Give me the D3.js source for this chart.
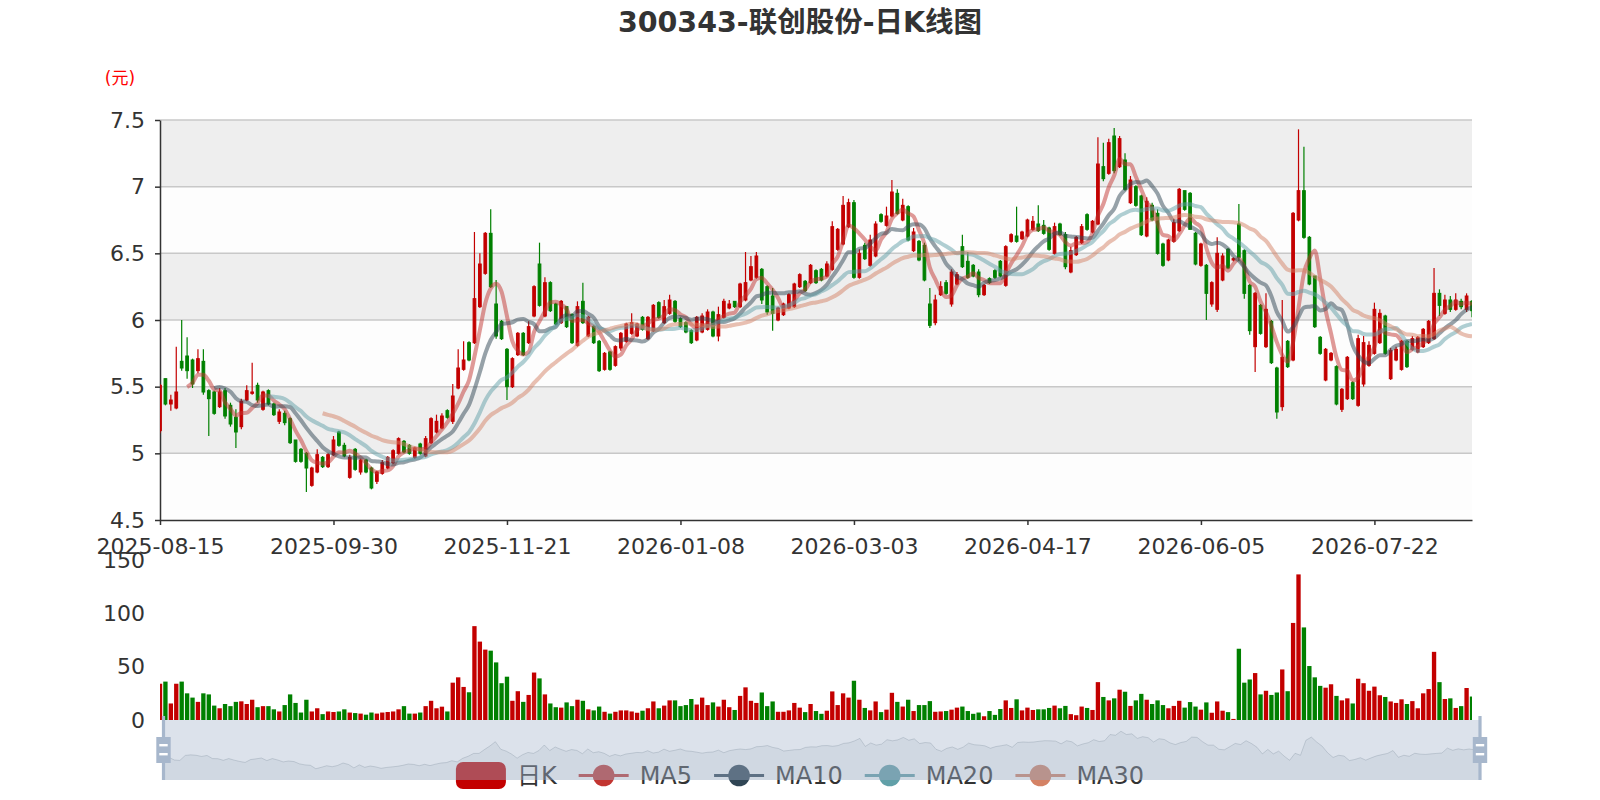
<!DOCTYPE html>
<html>
<head>
<meta charset="utf-8">
<title>300343-联创股份-日K线图</title>
<script src="https://cdn.jsdelivr.net/npm/d3@7/dist/d3.min.js"></script>
<style>
  body { margin: 0; background: #fff; }
  svg text { font-family: "DejaVu Sans", "Noto Sans CJK SC", sans-serif; }
</style>
</head>
<body>
<svg id="chart" width="1600" height="800"></svg>
<script>
// 交易日，按月份列出
const months = ['2025-08', '2025-09', '2025-10', '2025-11', '2025-12', '2026-01',
    '2026-02', '2026-03', '2026-04', '2026-05', '2026-06', '2026-07', '2026-08'];
const monthDays = [
    [15, 18, 19, 20, 21, 22, 25, 26, 27, 28, 29],
    [1, 2, 3, 4, 5, 8, 9, 10, 11, 12, 15, 16, 17, 18, 19, 22, 23, 24, 25, 26, 29, 30],
    [9, 10, 13, 14, 15, 16, 17, 20, 21, 22, 23, 24, 27, 28, 29, 30, 31],
    [3, 4, 5, 6, 7, 10, 11, 12, 13, 14, 17, 18, 19, 20, 21, 24, 25, 26, 27, 28],
    [1, 2, 3, 4, 5, 8, 9, 10, 11, 12, 15, 16, 17, 18, 19, 22, 23, 24, 25, 26, 29, 30, 31],
    [5, 6, 7, 8, 9, 12, 13, 14, 15, 16, 19, 20, 21, 22, 23, 26, 27, 28, 29, 30],
    [2, 3, 4, 5, 6, 9, 10, 11, 12, 13, 24, 25, 26, 27],
    [2, 3, 4, 5, 6, 9, 10, 11, 12, 13, 16, 17, 18, 19, 20, 23, 24, 25, 26, 27, 30, 31],
    [1, 2, 3, 7, 8, 9, 10, 13, 14, 15, 16, 17, 20, 21, 22, 23, 24, 27, 28, 29, 30],
    [6, 7, 8, 11, 12, 13, 14, 15, 18, 19, 20, 21, 22, 25, 26, 27, 28, 29],
    [1, 2, 3, 4, 5, 8, 9, 10, 11, 12, 15, 16, 17, 18, 22, 23, 24, 25, 26, 29, 30],
    [1, 2, 3, 6, 7, 8, 9, 10, 13, 14, 15, 16, 17, 20, 21, 22, 23, 24, 27, 28, 29, 30, 31],
    [3, 4, 5, 6, 7, 10, 11, 12, 13, 14, 17]
];

// 日K: [开盘, 收盘, 最低, 最高]
const kData = [
    [5.17, 5.51, 5.15, 5.52], [5.56, 5.37, 5.36, 5.56], [5.37, 5.40, 5.32, 5.44], [5.34, 5.46, 5.33, 5.80],
    [5.69, 5.64, 5.62, 6.00], [5.73, 5.62, 5.56, 5.87], [5.70, 5.52, 5.49, 5.71], [5.62, 5.71, 5.60, 5.78],
    [5.69, 5.46, 5.44, 5.78], [5.47, 5.41, 5.13, 5.48], [5.46, 5.30, 5.29, 5.47], [5.35, 5.46, 5.34, 5.49],
    [5.47, 5.28, 5.26, 5.49], [5.36, 5.22, 5.20, 5.38], [5.27, 5.16, 5.04, 5.33], [5.20, 5.39, 5.18, 5.41],
    [5.40, 5.47, 5.39, 5.51], [5.45, 5.46, 5.44, 5.68], [5.51, 5.40, 5.38, 5.53], [5.33, 5.46, 5.32, 5.47],
    [5.47, 5.37, 5.36, 5.48], [5.37, 5.29, 5.28, 5.38], [5.24, 5.31, 5.22, 5.33], [5.30, 5.23, 5.21, 5.32],
    [5.26, 5.08, 5.07, 5.27], [5.10, 4.94, 4.93, 5.10], [5.03, 4.94, 4.93, 5.04], [5.00, 4.89, 4.71, 5.01],
    [4.76, 4.89, 4.75, 4.90], [4.86, 4.99, 4.85, 5.03], [4.97, 4.90, 4.89, 4.98], [4.90, 4.99, 4.89, 5.00],
    [4.99, 5.10, 4.98, 5.13], [5.16, 5.06, 5.05, 5.17], [5.06, 4.98, 4.97, 5.08], [4.82, 4.97, 4.81, 4.99],
    [5.03, 4.88, 4.87, 5.04], [4.86, 4.95, 4.84, 4.96], [4.95, 4.86, 4.85, 4.96], [4.89, 4.74, 4.73, 4.90],
    [4.79, 4.86, 4.77, 4.87], [4.85, 4.93, 4.84, 4.95], [4.89, 4.97, 4.88, 4.98], [4.93, 5.02, 4.92, 5.03],
    [5.00, 5.11, 4.99, 5.12], [5.09, 5.01, 5.00, 5.10], [5.06, 5.00, 4.99, 5.07], [4.97, 5.04, 4.96, 5.05],
    [5.07, 5.00, 4.99, 5.08], [4.98, 5.11, 4.97, 5.13], [5.08, 5.26, 5.07, 5.27], [5.16, 5.24, 5.15, 5.29],
    [5.19, 5.28, 5.18, 5.30], [5.32, 5.27, 5.26, 5.33], [5.24, 5.43, 5.22, 5.52], [5.49, 5.64, 5.48, 5.78],
    [5.63, 5.70, 5.62, 5.84], [5.83, 5.70, 5.69, 5.84], [5.83, 6.16, 5.82, 6.66], [6.10, 6.42, 6.09, 6.50],
    [6.35, 6.65, 6.34, 6.66], [6.65, 6.25, 6.24, 6.83], [6.12, 5.88, 5.86, 6.30], [5.99, 5.86, 5.85, 6.00],
    [5.78, 5.50, 5.40, 5.79], [5.50, 5.71, 5.49, 5.72], [5.74, 5.90, 5.73, 5.91], [5.90, 5.74, 5.73, 5.91],
    [5.83, 5.95, 5.82, 5.99], [6.03, 6.25, 6.02, 6.26], [6.42, 6.11, 6.10, 6.58], [6.03, 6.28, 6.02, 6.32],
    [6.28, 6.07, 6.06, 6.29], [6.12, 5.97, 5.96, 6.13], [5.98, 6.14, 5.97, 6.15], [6.10, 5.95, 5.94, 6.10],
    [6.04, 5.83, 5.82, 6.05], [5.81, 6.10, 5.80, 6.14], [6.14, 5.98, 5.97, 6.28], [5.88, 6.02, 5.87, 6.03],
    [5.95, 5.83, 5.82, 5.96], [5.84, 5.62, 5.61, 5.85], [5.63, 5.75, 5.62, 5.76], [5.76, 5.63, 5.62, 5.77],
    [5.66, 5.80, 5.65, 5.81], [5.79, 5.90, 5.77, 5.91], [5.84, 5.97, 5.83, 5.98], [5.90, 5.98, 5.89, 6.05],
    [5.88, 5.97, 5.87, 5.98], [6.02, 5.93, 5.92, 6.03], [5.86, 6.02, 5.85, 6.03], [5.92, 6.11, 5.91, 6.12],
    [6.13, 6.02, 6.01, 6.14], [5.98, 6.10, 5.97, 6.15], [6.05, 6.15, 6.04, 6.19], [6.14, 5.99, 5.98, 6.15],
    [6.01, 5.95, 5.94, 6.02], [5.98, 5.91, 5.90, 5.99], [5.92, 5.83, 5.82, 5.93], [5.85, 6.02, 5.84, 6.03],
    [5.91, 6.03, 5.90, 6.05], [5.93, 6.06, 5.92, 6.08], [6.06, 5.88, 5.87, 6.07], [5.88, 6.04, 5.84, 6.10],
    [6.02, 6.14, 6.01, 6.16], [6.09, 6.12, 6.08, 6.15], [6.14, 6.10, 6.09, 6.14], [6.10, 6.27, 6.09, 6.28],
    [6.15, 6.28, 6.14, 6.51], [6.30, 6.40, 6.29, 6.48], [6.32, 6.48, 6.31, 6.51], [6.38, 6.15, 6.12, 6.39],
    [6.25, 6.06, 6.04, 6.26], [6.18, 6.05, 5.92, 6.24], [6.00, 6.09, 5.99, 6.10], [6.04, 6.12, 6.03, 6.13],
    [6.09, 6.19, 6.08, 6.20], [6.10, 6.27, 6.09, 6.28], [6.25, 6.34, 6.24, 6.35], [6.29, 6.22, 6.21, 6.30],
    [6.28, 6.41, 6.27, 6.42], [6.37, 6.28, 6.27, 6.38], [6.38, 6.30, 6.29, 6.39], [6.33, 6.42, 6.32, 6.44],
    [6.38, 6.70, 6.37, 6.74], [6.53, 6.68, 6.52, 6.69], [6.57, 6.86, 6.56, 6.93], [6.70, 6.88, 6.69, 6.91],
    [6.88, 6.32, 6.31, 6.90], [6.32, 6.50, 6.31, 6.53], [6.56, 6.46, 6.45, 6.58], [6.41, 6.60, 6.40, 6.64],
    [6.48, 6.72, 6.47, 6.74], [6.79, 6.74, 6.73, 6.80], [6.71, 6.78, 6.70, 6.85], [6.78, 6.96, 6.77, 7.05],
    [6.95, 6.80, 6.79, 6.98], [6.75, 6.86, 6.74, 6.91], [6.85, 6.60, 6.59, 6.86], [6.52, 6.66, 6.51, 6.69],
    [6.59, 6.45, 6.44, 6.60], [6.56, 6.30, 6.29, 6.58], [6.12, 5.96, 5.94, 6.24], [5.98, 6.15, 5.96, 6.19],
    [6.19, 6.25, 6.18, 6.29], [6.28, 6.20, 6.19, 6.30], [6.12, 6.36, 6.10, 6.38], [6.27, 6.34, 6.26, 6.36],
    [6.55, 6.40, 6.39, 6.64], [6.44, 6.32, 6.31, 6.51], [6.41, 6.33, 6.32, 6.42], [6.36, 6.19, 6.17, 6.38],
    [6.19, 6.26, 6.18, 6.27], [6.31, 6.28, 6.27, 6.32], [6.37, 6.32, 6.31, 6.38], [6.44, 6.33, 6.32, 6.45],
    [6.26, 6.55, 6.25, 6.56], [6.59, 6.64, 6.58, 6.65], [6.63, 6.59, 6.58, 6.85], [6.61, 6.66, 6.60, 6.67],
    [6.63, 6.75, 6.62, 6.76], [6.68, 6.74, 6.67, 6.78], [6.72, 6.67, 6.66, 6.86], [6.71, 6.65, 6.64, 6.75],
    [6.69, 6.53, 6.52, 6.70], [6.50, 6.70, 6.49, 6.73], [6.72, 6.64, 6.63, 6.73], [6.64, 6.40, 6.38, 6.66],
    [6.36, 6.52, 6.35, 6.55], [6.49, 6.62, 6.48, 6.63], [6.58, 6.70, 6.57, 6.72], [6.79, 6.68, 6.67, 6.80],
    [6.66, 6.74, 6.65, 6.75], [6.72, 7.17, 6.71, 7.37], [7.15, 7.06, 7.04, 7.33], [7.10, 7.33, 7.09, 7.36],
    [7.38, 7.12, 7.10, 7.44], [7.15, 7.36, 7.14, 7.38], [7.20, 6.98, 6.97, 7.25], [6.88, 7.05, 6.87, 7.08],
    [7.00, 6.86, 6.85, 7.01], [6.93, 6.64, 6.63, 6.94], [6.63, 6.89, 6.62, 6.92], [6.86, 6.75, 6.74, 6.88],
    [6.80, 6.50, 6.49, 6.83], [6.57, 6.41, 6.40, 6.58], [6.45, 6.60, 6.44, 6.61], [6.59, 6.73, 6.58, 6.76],
    [6.67, 6.98, 6.66, 6.99], [6.97, 6.83, 6.82, 6.97], [6.95, 6.68, 6.68, 6.96], [6.65, 6.42, 6.41, 6.66],
    [6.41, 6.57, 6.40, 6.58], [6.41, 6.20, 6.00, 6.42], [6.12, 6.28, 6.10, 6.29], [6.08, 6.50, 6.06, 6.62],
    [6.30, 6.48, 6.29, 6.50], [6.53, 6.39, 6.38, 6.54], [6.45, 6.46, 6.44, 6.47], [6.72, 6.47, 6.44, 6.87],
    [6.52, 6.20, 6.16, 6.53], [6.26, 5.92, 5.89, 6.27], [5.80, 6.20, 5.61, 6.21], [6.11, 5.90, 5.89, 6.12],
    [5.80, 6.08, 5.79, 6.20], [5.99, 5.68, 5.67, 6.00], [5.64, 5.31, 5.26, 5.65], [5.35, 5.72, 5.32, 6.15],
    [5.84, 5.65, 5.64, 5.85], [5.70, 6.80, 5.69, 6.81], [6.75, 6.97, 6.74, 7.43], [6.97, 6.62, 6.61, 7.30],
    [6.62, 6.27, 6.26, 6.63], [6.33, 5.95, 5.94, 6.33], [5.87, 5.75, 5.74, 5.88], [5.55, 5.78, 5.54, 5.79],
    [5.70, 5.75, 5.69, 5.76], [5.65, 5.37, 5.36, 5.66], [5.33, 5.48, 5.31, 5.49], [5.41, 5.72, 5.40, 5.73],
    [5.53, 5.41, 5.40, 5.54], [5.36, 5.86, 5.35, 5.89], [5.52, 5.83, 5.50, 5.88], [5.66, 5.81, 5.65, 5.84],
    [5.75, 6.08, 5.74, 6.13], [5.83, 6.05, 5.82, 6.08], [6.03, 5.75, 5.74, 6.04], [5.56, 5.77, 5.55, 5.79],
    [5.70, 5.78, 5.69, 5.80], [5.63, 5.84, 5.62, 5.85], [5.84, 5.65, 5.64, 5.85], [5.78, 5.86, 5.77, 5.88],
    [5.76, 5.87, 5.75, 5.88], [5.80, 5.93, 5.79, 5.94], [5.83, 5.99, 5.82, 6.00], [5.86, 6.20, 5.85, 6.39],
    [6.20, 6.11, 6.03, 6.23], [6.05, 6.15, 6.04, 6.19], [6.15, 6.08, 6.06, 6.18], [6.08, 6.15, 6.07, 6.20],
    [6.14, 6.10, 6.08, 6.16], [6.08, 6.18, 6.06, 6.20], [6.14, 6.07, 6.02, 6.15]
];

// 成交量
const volumes = [
    34, 36, 15.5, 34, 36, 25, 21, 17, 25, 24,
    13.5, 11, 15, 13, 17, 17.5, 15, 19, 12, 13,
    13, 10, 8, 14, 24, 16, 7, 19, 8, 11,
    5.5, 8, 7.5, 8, 10, 7, 6.5, 6, 5, 7,
    6, 7, 7.5, 8, 10, 13, 6, 6, 7, 13,
    18, 11, 12.5, 8, 35, 40, 31, 26, 88, 73.5,
    66, 65, 54, 34.5, 40.6, 18, 27, 17, 23.5, 44.5,
    39, 24, 15.5, 12, 11.6, 16.5, 13, 19, 18, 10,
    9, 12.6, 7.7, 6, 7.7, 9, 9, 8, 6.8, 8.7,
    11, 17.4, 11, 13.5, 18.4, 18.4, 13, 14, 19.7, 14.5,
    21, 14, 16.5, 12.6, 19, 12, 9.4, 22.6, 30.6, 18,
    16, 25.8,
    13, 17.4, 7.7, 7.7, 9, 16, 11.6, 7.4, 15, 8.4,
    5.8, 8.7, 26.8, 14, 25, 21, 36.8, 19, 11.3, 9,
    17.4, 7.4, 9.7, 25.5, 17, 12.6, 19, 8.4, 14, 14,
    17.7, 7.7, 8, 8.4, 9.7, 11.6, 12.6, 8.4, 5.8, 7,
    3.5, 8.4, 4.8, 10.3, 18.4, 11.3, 19.4, 9, 11.6, 9.4,
    10, 10, 11.3, 13.5, 11, 13.2, 5.5, 4.5, 12.6, 11.3,
    9.4, 35.5, 21.6, 18.4, 20.3, 28.4, 26.5, 13.2, 18.4, 24.5,
    19, 15, 18.4, 14, 11, 13.2, 18, 11.6, 16.8, 12.6,
    9.7, 16.5, 6.8, 17.4, 8.7, 7.4, 1, 66.8, 35, 38,
    44, 24, 27.4, 23.5, 25.8, 47.4, 27, 91, 136.5, 86.8,
    50.6, 40, 32, 30.3, 33.5, 22.6, 18.4, 20.3, 15.5, 38.7,
    34.5, 27.4, 31.3, 23.2, 21.6, 17.4, 16, 19.4, 15, 17.7,
    11, 25, 29, 63.9, 35.5, 19.7, 20.3, 11.3, 13, 30,
    22
];

const yTicks = [4.5, 5, 5.5, 6, 6.5, 7, 7.5];
const volTicks = [0, 50, 100, 150];
const maDays = [5, 10, 20, 30];
const legendNames = ['日K', 'MA5', 'MA10', 'MA20', 'MA30'];
const LABEL_EVERY = 32;

const W = 1600, H = 800;
const LEFT = 160, RIGHT = 1472, TOP = 120, BOTTOM = 520;
const VOL_TOP = 560, VOL_BOTTOM = 720;
const SL_LEFT = 163.5, SL_RIGHT = 1480, SL_TOP = 720, SL_BOTTOM = 780;
const UP = '#c30000', DOWN = '#008000';
const MA_COLORS = ['#c23531', '#2f4554', '#61a0a8', '#d48265'];
const AXIS = '#333', FONT = 22;
const FAMILY = '"DejaVu Sans", "Noto Sans CJK SC", sans-serif';

const dates = [];
months.forEach((m, k) => monthDays[k].forEach(d => dates.push(`${m}-${String(d).padStart(2, '0')}`)));

// 和 echarts 示例一样：前 n 个点不画
function calculateMA(n) {
    return kData.map((d, i) => {
        if (i < n) return null;
        let sum = 0;
        for (let j = 0; j < n; j++) sum += kData[i - j][1];
        return sum / n;
    });
}

const svg = d3.select('#chart');
const x = d3.scalePoint().domain(dates).range([LEFT, RIGHT]);
const y = d3.scaleLinear().domain([4.5, 7.5]).range([BOTTOM, TOP]);
const yv = d3.scaleLinear().domain([0, 150]).range([VOL_BOTTOM, VOL_TOP]);
const colorOf = d => d[1] >= d[0] ? UP : DOWN;

svg.append('rect').attr('width', W).attr('height', H).attr('fill', '#fff');

const defs = svg.append('defs');
defs.append('clipPath').attr('id', 'clipK')
    .append('rect').attr('x', LEFT).attr('y', TOP).attr('width', RIGHT - LEFT).attr('height', BOTTOM - TOP);
defs.append('clipPath').attr('id', 'clipV')
    .append('rect').attr('x', LEFT).attr('y', VOL_TOP - 5).attr('width', RIGHT - LEFT).attr('height', VOL_BOTTOM - VOL_TOP + 5);

// 标题
svg.append('text')
    .attr('x', W / 2).attr('y', 22)
    .attr('text-anchor', 'middle').attr('dominant-baseline', 'central')
    .attr('font-size', 28.5).attr('font-weight', 'bold').attr('fill', '#333')
    .text('300343-联创股份-日K线图');

svg.append('text')
    .attr('x', 120).attr('y', 78)
    .attr('text-anchor', 'middle').attr('dominant-baseline', 'central')
    .attr('font-size', 17).attr('fill', 'red')
    .text('(元)');

// 分隔区域 + 分隔线
for (let k = 0; k < yTicks.length - 1; k++) {
    svg.append('rect')
        .attr('x', LEFT).attr('y', y(yTicks[k + 1]))
        .attr('width', RIGHT - LEFT).attr('height', y(yTicks[k]) - y(yTicks[k + 1]))
        .attr('fill', k % 2 === 0 ? '#fdfdfd' : '#eeeeee');
}
svg.append('g').selectAll('line').data(yTicks.slice(1)).join('line')
    .attr('x1', LEFT).attr('x2', RIGHT)
    .attr('y1', d => y(d)).attr('y2', d => y(d))
    .attr('stroke', '#c8c8c8').attr('stroke-width', 1.5);

// 坐标轴
const yAxis = svg.append('g').attr('transform', `translate(${LEFT},0)`)
    .call(d3.axisLeft(y).tickValues(yTicks).tickFormat(d3.format('')).tickSize(5).tickSizeOuter(0).tickPadding(10));
const xAxis = svg.append('g').attr('transform', `translate(0,${BOTTOM})`)
    .call(d3.axisBottom(x).tickValues(dates.filter((d, i) => i % LABEL_EVERY === 0)).tickSize(5).tickSizeOuter(0).tickPadding(13));
const vAxis = svg.append('g').attr('transform', `translate(${LEFT},0)`)
    .call(d3.axisLeft(yv).tickValues(volTicks).tickSize(0).tickPadding(15));
vAxis.select('.domain').remove();
[yAxis, xAxis, vAxis].forEach(a => {
    a.selectAll('.domain, .tick line').attr('stroke', AXIS).attr('stroke-width', 1.5);
    a.selectAll('text').attr('font-size', FONT).attr('fill', AXIS).attr('font-family', FAMILY);
});

// K线
const kg = svg.append('g').attr('clip-path', 'url(#clipK)');
const bodyW = x.step() / 2;
kg.selectAll('line.wick').data(kData).join('line').attr('class', 'wick')
    .attr('x1', (d, i) => x(dates[i])).attr('x2', (d, i) => x(dates[i]))
    .attr('y1', d => y(d[3])).attr('y2', d => y(d[2]))
    .attr('stroke', colorOf).attr('stroke-width', 1.2);
kg.selectAll('rect.body').data(kData).join('rect').attr('class', 'body')
    .attr('x', (d, i) => x(dates[i]) - bodyW / 2)
    .attr('y', d => y(Math.max(d[0], d[1])))
    .attr('width', bodyW)
    .attr('height', d => Math.max(0.5, Math.abs(y(d[0]) - y(d[1]))))
    .attr('fill', colorOf).attr('stroke', colorOf).attr('stroke-width', 1);

// 均线
const line = d3.line()
    .x(d => x(dates[d.i])).y(d => y(d.v))
    .curve(d3.curveMonotoneX);
maDays.forEach((n, k) => {
    const ma = calculateMA(n).map((v, i) => ({i, v})).filter(d => d.v != null);
    kg.append('path')
        .attr('d', line(ma))
        .attr('fill', 'none')
        .attr('stroke', MA_COLORS[k]).attr('stroke-width', 4)
        .attr('stroke-opacity', 0.5).attr('stroke-linejoin', 'round');
});

// 成交量
const barW = x.step() * 0.8;
svg.append('g').attr('clip-path', 'url(#clipV)')
    .selectAll('rect').data(volumes).join('rect')
    .attr('x', (v, i) => x(dates[i]) - barW / 2)
    .attr('y', v => yv(v))
    .attr('width', barW)
    .attr('height', v => VOL_BOTTOM - yv(v))
    .attr('fill', (v, i) => colorOf(kData[i]));

// 图例（被滑块盖住一部分，所以先画）
const lg = svg.append('g');
const ICON_W = 50, ICON_H = 27, LEG_Y = 775.5, TEXT_GAP = 11, ITEM_GAP = 22;
const items = legendNames.map((name, k) => {
    const g = lg.append('g');
    if (k === 0) {
        g.append('rect').attr('x', 0).attr('y', LEG_Y - ICON_H / 2)
            .attr('width', ICON_W).attr('height', ICON_H).attr('rx', 7)
            .attr('fill', UP);
    } else {
        g.append('line').attr('x1', 0).attr('x2', ICON_W).attr('y1', LEG_Y).attr('y2', LEG_Y)
            .attr('stroke', MA_COLORS[k - 1]).attr('stroke-width', 3);
        g.append('circle').attr('cx', ICON_W / 2).attr('cy', LEG_Y).attr('r', 10.8)
            .attr('fill', MA_COLORS[k - 1]);
    }
    const t = g.append('text').attr('x', ICON_W + TEXT_GAP).attr('y', LEG_Y)
        .attr('dominant-baseline', 'central').attr('font-size', 24).attr('fill', '#333')
        .text(name);
    return {g, w: ICON_W + TEXT_GAP + t.node().getComputedTextLength()};
});
const total = d3.sum(items, d => d.w) + ITEM_GAP * (items.length - 1);
let cur = W / 2 - total / 2;
items.forEach(it => {
    it.g.attr('transform', `translate(${cur},0)`);
    cur += it.w + ITEM_GAP;
});

// 数据区域缩放滑块
const sx = d3.scaleLinear().domain([0, kData.length - 1]).range([SL_LEFT, SL_RIGHT]);
const opens = kData.map(d => d[0]);
const oMin = d3.min(opens), oMax = d3.max(opens), off = (oMax - oMin) * 0.3;
const sy = d3.scaleLinear().domain([oMin - off, oMax + off]).range([SL_BOTTOM, SL_TOP]);
const shadow = kData.map((d, i) => [sx(i), sy(d[0])]);
svg.append('path')
    .attr('d', d3.area().x(d => d[0]).y0(SL_BOTTOM).y1(d => d[1])(shadow))
    .attr('fill', 'rgba(47,69,84,0.09)');
svg.append('path')
    .attr('d', d3.line()(shadow))
    .attr('fill', 'none').attr('stroke', 'rgba(47,69,84,0.3)').attr('stroke-width', 0.8);
svg.append('rect')
    .attr('x', SL_LEFT).attr('y', SL_TOP)
    .attr('width', SL_RIGHT - SL_LEFT).attr('height', SL_BOTTOM - SL_TOP)
    .attr('fill', 'rgba(167,183,204,0.4)');
[SL_LEFT, SL_RIGHT].forEach(hx => {
    const h = svg.append('g').attr('transform', `translate(${hx},0)`);
    h.append('rect').attr('x', -1.6).attr('y', SL_TOP - 4).attr('width', 3.2).attr('height', SL_BOTTOM - SL_TOP + 4)
        .attr('fill', '#a7b7cc');
    h.append('rect').attr('x', -7.2).attr('y', 737).attr('width', 14.4).attr('height', 26)
        .attr('fill', '#a7b7cc');
    [744, 753].forEach(sy0 => h.append('rect')
        .attr('x', -4.2).attr('y', sy0).attr('width', 8.4).attr('height', 2.4).attr('fill', '#fff'));
});
</script>
</body>
</html>
